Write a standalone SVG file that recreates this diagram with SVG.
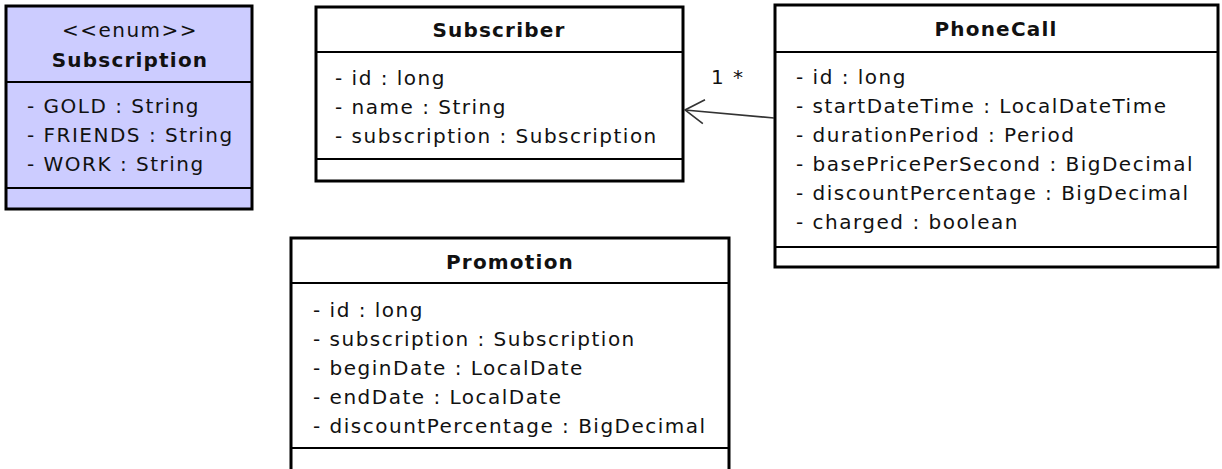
<svg xmlns="http://www.w3.org/2000/svg" width="1222" height="469" viewBox="0 0 1222 469">
  <style>
    .box { stroke: #000; stroke-width: 3; }
    .sep { stroke: #000; stroke-width: 2; }
    .t { font-family: "DejaVu Sans", "Liberation Sans", sans-serif; font-size: 20px; letter-spacing: 1.5px; fill: #111; }
    .b { font-weight: bold; text-anchor: middle; letter-spacing: 1.2px; }
    .c { text-anchor: middle; }
  </style>
  <defs>
    <!-- open arrowhead: tip at the end of the line, arms trailing back -->
    <marker id="open" markerWidth="22" markerHeight="28" refX="20" refY="14" orient="auto" markerUnits="userSpaceOnUse">
      <path d="M1,2 L20,14 L1,26" fill="none" stroke="#333" stroke-width="1.6"/>
    </marker>
  </defs>
  <rect width="1222" height="469" fill="#fff"/>

  <g id="Subscription">
    <rect class="box" x="6" y="6" width="246" height="203" fill="#ccccff"/>
    <line class="sep" x1="6" y1="82" x2="252" y2="82"/>
    <line class="sep" x1="6" y1="188" x2="252" y2="188"/>
    <text class="t c" x="130" y="37">&lt;&lt;enum&gt;&gt;</text>
    <text class="t b" x="130" y="67">Subscription</text>
    <text class="t" x="27" y="113">- GOLD : String</text>
    <text class="t" x="27" y="142">- FRIENDS : String</text>
    <text class="t" x="27" y="171">- WORK : String</text>
  </g>

  <g id="Subscriber">
    <rect class="box" x="316" y="7" width="367" height="174" fill="#fff"/>
    <line class="sep" x1="316" y1="52" x2="683" y2="52"/>
    <line class="sep" x1="316" y1="159" x2="683" y2="159"/>
    <text class="t b" x="499" y="37">Subscriber</text>
    <text class="t" x="335" y="85">- id : long</text>
    <text class="t" x="335" y="114">- name : String</text>
    <text class="t" x="335" y="143">- subscription : Subscription</text>
  </g>

  <g id="PhoneCall">
    <rect class="box" x="775" y="5" width="443" height="262" fill="#fff"/>
    <line class="sep" x1="775" y1="52" x2="1218" y2="52"/>
    <line class="sep" x1="775" y1="247" x2="1218" y2="247"/>
    <text class="t b" x="996" y="36">PhoneCall</text>
    <text class="t" x="796" y="84">- id : long</text>
    <text class="t" x="796" y="113">- startDateTime : LocalDateTime</text>
    <text class="t" x="796" y="142">- durationPeriod : Period</text>
    <text class="t" x="796" y="171">- basePricePerSecond : BigDecimal</text>
    <text class="t" x="796" y="200">- discountPercentage : BigDecimal</text>
    <text class="t" x="796" y="229">- charged : boolean</text>
  </g>

  <g id="Promotion">
    <rect class="box" x="291" y="238" width="438" height="240" fill="#fff"/>
    <line class="sep" x1="291" y1="283" x2="729" y2="283"/>
    <line class="sep" x1="291" y1="448" x2="729" y2="448"/>
    <text class="t b" x="510" y="269">Promotion</text>
    <text class="t" x="313" y="317">- id : long</text>
    <text class="t" x="313" y="346">- subscription : Subscription</text>
    <text class="t" x="313" y="375">- beginDate : LocalDate</text>
    <text class="t" x="313" y="404">- endDate : LocalDate</text>
    <text class="t" x="313" y="433">- discountPercentage : BigDecimal</text>
  </g>

  <g id="connectors">
    <line x1="774" y1="118" x2="685" y2="110" stroke="#333" stroke-width="1.6" marker-end="url(#open)"/>
    <text class="t" x="711" y="84">1 *</text>
  </g>
</svg>
